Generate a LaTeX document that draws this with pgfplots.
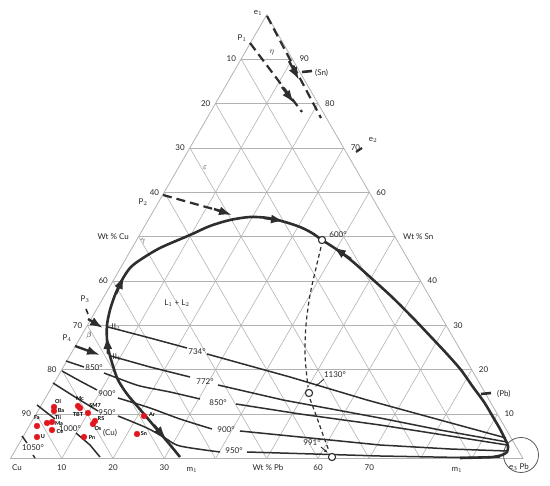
\documentclass[border=0pt]{standalone}
\usepackage{pgfplots}
\pgfplotsset{compat=1.18}
\usepackage{fontspec}
\setmainfont{Lato}
\usetikzlibrary{arrows.meta}
\definecolor{curvec}{HTML}{2E2E2E}
\definecolor{gridc}{HTML}{B2B2B2}
\definecolor{dotred}{HTML}{E2171E}
\tikzset{
  gridl/.style={gridc, line width=0.6pt},
  loopc/.style={curvec, line width=2.6pt},
  tiec/.style={curvec, line width=1.5pt},
  dashc/.style={curvec, line width=2.2pt, dash pattern=on 9pt off 5pt},
  bigarrow/.style={curvec, line width=2.4pt, -{Latex[length=13pt,width=9pt]}},
  lbl/.style={font=\fontsize{8}{9}\selectfont, inner sep=0pt, text=black!85},
  smal/.style={font=\bfseries\fontsize{5.5}{6}\selectfont, inner sep=0pt},
}
\begin{document}
\begin{tikzpicture}
\begin{axis}[
  width=550pt, height=486pt, scale only axis,
  xmin=0, xmax=550, ymin=0, ymax=486, y dir=reverse,
  axis lines=none, clip=false,
]
% ternary grid, every 10 wt%
\pgfplotsinvokeforeach{10,20,...,90}{
  \draw[gridl] ({10.5+2.5625*#1},{458.5-4.438*#1}) -- ({523-2.5625*#1},{458.5-4.438*#1});
  \draw[gridl] ({10.5+5.125*#1},458.5) -- ({523-2.5625*(100-#1)},{458.5-4.438*(100-#1)});
  \draw[gridl] ({523-5.125*#1},458.5) -- ({10.5+2.5625*(100-#1)},{458.5-4.438*(100-#1)});
}
\draw[gridc, line width=0.8pt] (10.5,458.5) -- (266.75,14.7) -- (523,458.5) -- cycle;

% axis labels
\pgfplotsinvokeforeach{10,20,30,40,60,70,80,90}{
  \node[lbl, anchor=east] at ({10.5+2.5625*(100-#1)-5},{458.5-4.438*(100-#1)}) {#1};
  \node[lbl, anchor=west] at ({523-2.5625*#1+7},{458.5-4.438*#1}) {#1};
}
\node[lbl, anchor=east] at (129,237) {Wt \% Cu};
\node[lbl, anchor=west] at (403,237) {Wt \% Sn};
\pgfplotsinvokeforeach{10,20,30,60,70}{
  \node[lbl] at ({10.5+5.125*#1},468) {#1};
}
\node[lbl] at (17,468) {Cu};
\node[lbl] at (268,468) {Wt \% Pb};
\node[lbl] at (192,470) {m$_1$};
\node[lbl] at (457,470) {m$_1$};
\node[lbl] at (519,467) {e$_3$ Pb};
\draw[curvec!80, line width=0.8pt] (521,455) circle [radius=17.5pt];

% miscibility gap boundary
\addplot[loopc, smooth, tension=0.5] coordinates {
(180,457) (171,446) (160,433) (149,420) (138,407) (127,394) (118,380)
(113,366) (109,352) (107,340) (107,325) (110,310) (115,295) (122,280)
(130,268) (140,260) (160,248) (190,235) (210,226) (230,220) (250,217)
(268,218) (285,222) (300,227) (312,233) (322,240) (336,249) (352,261)
(370,277) (392,297) (413,318) (432,338) (447,354) (461,370) (473,387)
(484,402) (493,417) (500,429) (505,439) (508,446) (507,452) (502,455)
(493,457) (480,457.5) (460,458)
};
\addplot[bigarrow] coordinates {(154,425) (166,439)};
\addplot[bigarrow] coordinates {(108,354) (107,336)};
\addplot[bigarrow] coordinates {(116,294) (124,276)};
\addplot[bigarrow] coordinates {(264,218) (284,221)};
\addplot[bigarrow] coordinates {(351,259) (333,247)};

% tie lines / isotherms
\addplot[tiec] coordinates {(108,327) (150,338) (187,348)};
\addplot[tiec] coordinates {(207,354) (290,377) (367,400) (440,420) (506,438)};
\addplot[tiec] coordinates {(111,356) (150,367) (190,377)};
\addplot[tiec] coordinates {(218,385) (283,400) (380,418) (440,430) (507,442)};
\addplot[tiec] coordinates {(66,361) (84,367)};
\addplot[tiec, smooth] coordinates {(104,373) (120,379) (140,386) (170,392) (200,399)};
\addplot[tiec] coordinates {(236,404) (300,414) (380,425) (450,436) (507,445)};
\addplot[tiec] coordinates {(62,371) (80,381) (97,390)};
\addplot[tiec, smooth] coordinates {(118,398) (150,408) (180,419) (212,429)};
\addplot[tiec] coordinates {(240,431) (310,438) (380,445) (450,449) (507,451)};
\addplot[tiec] coordinates {(53,383) (75,397) (98,411)};
\addplot[tiec, smooth] coordinates {(118,416) (147,428) (165,438) (180,446) (220,452)};
\addplot[tiec] coordinates {(247,452) (380,456) (460,457.5) (500,457)};
\addplot[tiec] coordinates {(37,405) (55,419)};
\addplot[tiec] coordinates {(76,433) (90,445) (100,457)};
\addplot[tiec] coordinates {(22,436) (27,443)};
\addplot[tiec] coordinates {(33,455) (35,458)};

% dashed paths
\addplot[dashc] coordinates {(250,43) (302,112)};
\addplot[dashc] coordinates {(267,16) (321,118)};
\addplot[dashc] coordinates {(163,195) (224,212)};
\addplot[bigarrow] coordinates {(282,87) (294,103)};
\addplot[bigarrow] coordinates {(289,61) (299,80)};
\addplot[bigarrow] coordinates {(214,209) (232,215)};
\addplot[bigarrow] coordinates {(88,319) (103,328)};
\addplot[bigarrow] coordinates {(75,346) (100,355)};
\addplot[curvec, line width=1.2pt, dash pattern=on 4pt off 3pt, smooth] coordinates {
(321,247) (316,268) (310,295) (306,325) (305,355) (308,387)};
\addplot[curvec, line width=1.2pt, dash pattern=on 4pt off 3pt] coordinates {
(310,399) (316,415) (322,432) (329,451)};
\addplot[only marks, mark=*, mark size=3.6pt,
  mark options={fill=white, draw=curvec, line width=1.1pt}] coordinates {
(322,240) (309,393) (332,457)};

% short marks
\addplot[curvec, line width=2.6pt] coordinates {(302,72) (312,71)};
\addplot[curvec, line width=2.6pt] coordinates {(481,394) (491,393)};
\addplot[curvec, line width=2.2pt] coordinates {(356,152) (362,148)};
\addplot[curvec, line width=1.6pt] coordinates {(86,309) (88,314)};
\addplot[curvec, line width=0.9pt, -{Latex[length=4pt,width=3pt]}] coordinates {(324,379) (315,387)};
\addplot[curvec, line width=0.9pt, -{Latex[length=4pt,width=3pt]}] coordinates {(321,447) (328,453)};

% partly hidden isotherm label, under the sample points
\node[lbl] at (70,429) {1000°};

% red sample points
\addplot[only marks, mark=*, mark size=2.9pt, color=dotred] coordinates {
(54,407) (54,411) (37,426) (47,423) (52,422) (52,430) (37,437)
(78,406) (80,408) (88,413) (95,421) (93,424) (84,437) (144,416) (137,434)
};
\node[smal] at (58,401) {Ol};
\node[smal] at (61,411) {Ba};
\node[smal] at (37,418) {Fa};
\node[smal] at (58,417) {Tli};
\node[smal] at (59,423.5) {Ma};
\node[smal] at (60,432) {Ce};
\node[smal] at (43,437) {U};
\node[smal] at (80,399) {Mc};
\node[smal] at (78,415) {TBT};
\node[smal] at (95,406) {SM7};
\node[smal] at (101,419) {RS};
\node[smal] at (98,429) {Os};
\node[smal] at (92,438) {Pn};
\node[smal] at (152,415) {Ar};
\node[smal] at (144,434) {Sn};

% text labels
\node[lbl] at (258,13) {e$_1$};
\node[lbl] at (242,38) {P$_1$};
\node[lbl] at (272,53) {$\eta$};
\node[lbl, anchor=west] at (315,73) {(Sn)};
\node[lbl] at (373,140) {e$_2$};
\node[lbl] at (205,168) {$\varepsilon$};
\node[lbl] at (143,202) {P$_2$};
\node[lbl] at (143,242) {$\gamma$};
\node[lbl] at (338,235) {600°};
\node[lbl] at (177,303) {L$_1$ + L$_2$};
\node[lbl] at (85,299) {P$_3$};
\node[lbl] at (116,327) {II$_2$};
\node[lbl] at (89,336) {$\beta$};
\node[lbl] at (67,338) {P$_4$};
\node[lbl] at (117,357) {II$_1$};
\node[lbl] at (197,352) {734°};
\node[lbl] at (205,382) {772°};
\node[lbl] at (94,368) {850°};
\node[lbl] at (218,403) {850°};
\node[lbl] at (107,394) {900°};
\node[lbl] at (226,430) {900°};
\node[lbl] at (107,413) {950°};
\node[lbl] at (234,451) {950°};
\node[lbl] at (33,448) {1050°};
\node[lbl] at (335,375) {1130°};
\node[lbl] at (312,443) {991°};
\node[lbl] at (110,433) {(Cu)};
\node[lbl, anchor=west] at (497,394) {(Pb)};
\end{axis}
\pgfresetboundingbox
\path (current axis.south west) rectangle (current axis.north east);
\end{tikzpicture}
\end{document}
